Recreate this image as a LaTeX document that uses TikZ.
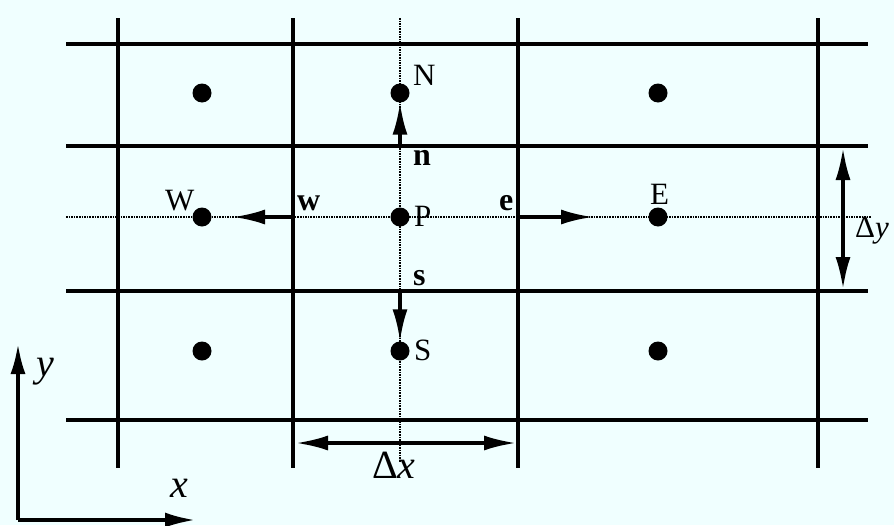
\documentclass[tikz,border=0pt]{standalone}
\usepackage{fontspec}
\setmainfont{Liberation Serif}
\usetikzlibrary{arrows.meta,positioning}
\definecolor{bgcyan}{RGB}{240,255,255}

\begin{document}
\begin{tikzpicture}[x=1pt,y=-1pt,
    grid/.style={line width=3.5pt},
    guide/.style={line width=1.6pt, dash pattern=on 1.6pt off 1pt},
    dot/.style={circle, fill=black, inner sep=0pt, minimum size=19pt},
    flux/.style={line width=3.3pt, -{Latex[length=32pt,width=15pt]}},
    lbl/.style={font=\fontsize{31}{34}\selectfont, inner sep=0pt},
    face/.style={font=\fontsize{32}{34}\selectfont\bfseries, inner sep=0pt},
    big/.style={font=\fontsize{40}{42}\selectfont, inner sep=0pt}]
        \fill[bgcyan] (0,0) rectangle (894,525);
        \useasboundingbox (0,0) rectangle (894,525);

        % grid lines of the control volumes
        \foreach \x in {118,293,518,818}
            \draw[grid] (\x,18) -- (\x,468);
        \foreach \y in {44,146,291,420}
            \draw[grid] (66,\y) -- (868,\y);

        % dotted lines through P
        \draw[guide] (66,217) -- (872,217);
        \draw[guide] (400,18) -- (400,462);

        % nodes
        \node[dot] (NW) at (202,93) {};
        \node[dot] (N) at (400,93) {};
        \node[dot] (NE) at (658,93) {};
        \node[dot] (W) at (202,217) {};
        \node[dot] (P) at (400,217) {};
        \node[dot] (E) at (658,217) {};
        \node[dot] (SW) at (202,351) {};
        \node[dot] (S) at (400,351) {};
        \node[dot] (SE) at (658,351) {};

        % cell faces
        \coordinate (w) at (293,217);
        \coordinate (e) at (518,217);
        \coordinate (n) at (400,146);
        \coordinate (s) at (400,291);
        \coordinate (wtip) at (233,217);
        \coordinate (etip) at (593,217);

        \draw[flux] (w) -- (wtip);
        \draw[flux] (e) -- (etip);
        \draw[flux] (n) -- (N.south);
        \draw[flux] (s) -- (S.north);

        % labels
        \node[lbl, anchor=base west] (Nl) at (413,85) {N};
        \node[lbl, anchor=base west] (Wl) at (165,210) {W};
        \node[lbl, anchor=base west] (Pl) at (414,226) {P};
        \node[lbl, anchor=base west] (El) at (650,204) {E};
        \node[lbl, anchor=base west] (Sl) at (414,360) {S};
        \node[face, anchor=base west] (nl) at (413,165) {n};
        \node[face, anchor=base west] (sl) at (413,285) {s};
        \node[face, anchor=base west] (wl) at (297,210) {w};
        \node[face, anchor=base west] (el) at (499,210) {e};

        % mesh sizes
        \coordinate (dxa) at (296,443);
        \coordinate (dxb) at (516,443);
        \draw[line width=3.3pt, {Latex[length=32pt,width=15pt]}-{Latex[length=32pt,width=15pt]}] (dxa) -- (dxb);
        \node[big, anchor=base] (dx) at (394,478) {Δ\textit{x}};
        \coordinate (dya) at (843,148);
        \coordinate (dyb) at (843,289);
        \draw[line width=3.3pt, {Latex[length=32pt,width=15pt]}-{Latex[length=32pt,width=15pt]}] (dya) -- (dyb);
        \node[lbl, anchor=base west] (dy) at (855,237) {Δ\textit{y}};

        % axes
        \coordinate (O) at (18,520);
        \coordinate (xend) at (195,520);
        \coordinate (yend) at (18,344);
        \draw[line width=3.3pt, -{Latex[length=30pt,width=15pt]}] (O) -- (yend);
        \draw[line width=3.3pt, -{Latex[length=30pt,width=15pt]}] (O) -- (xend);
        \node[big, anchor=base west] (yl) at (36,376) {\textit{y}};
        \node[big, anchor=base west] (xl) at (170,497) {\textit{x}};
\end{tikzpicture}
\end{document}
